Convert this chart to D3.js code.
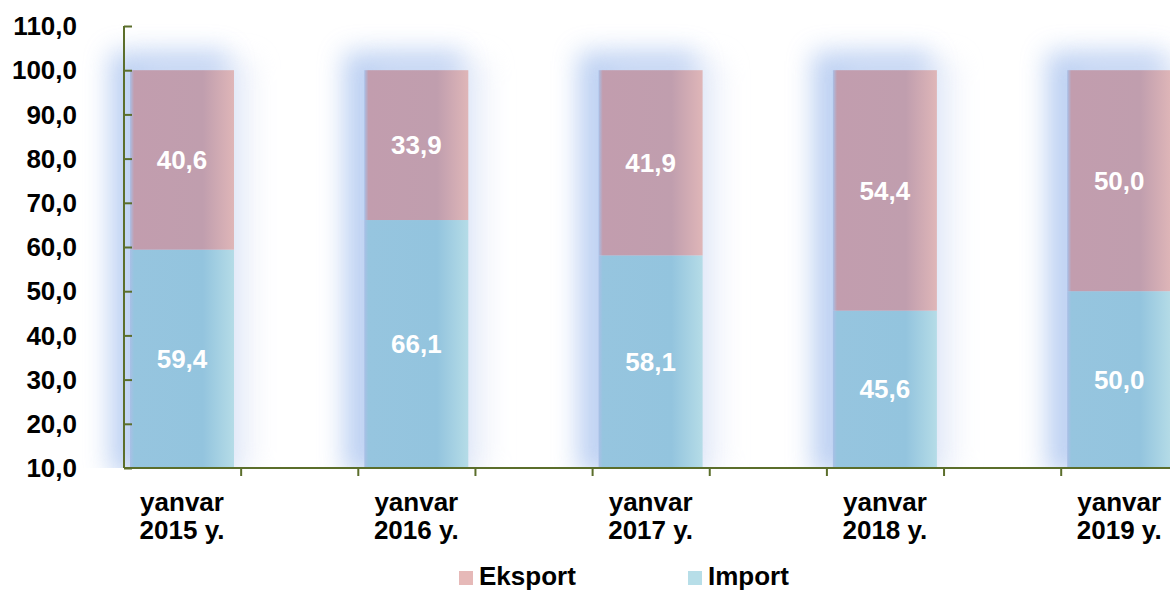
<!DOCTYPE html>
<html><head><meta charset="utf-8">
<script src="https://cdn.jsdelivr.net/npm/d3@7/dist/d3.min.js"></script>
<style>body{margin:0;background:#fff}svg{display:block}text{font-family:"Liberation Sans",Arial,sans-serif;font-weight:bold}</style>
</head><body><svg id="c" width="1170" height="590"></svg>
<script>
const categories = ["yanvar|2015 y.","yanvar|2016 y.","yanvar|2017 y.","yanvar|2018 y.","yanvar|2019 y."];
const importValues = [59.4, 66.1, 58.1, 45.6, 50.0];
const eksportValues = [40.6, 33.9, 41.9, 54.4, 50.0];
const yTicks = [10,20,30,40,50,60,70,80,90,100,110];
const seriesNames = ["Eksport","Import"];

const svg = d3.select("#c");
const y = d3.scaleLinear().domain([10,110]).range([468,26]);
const x = d3.scaleBand().domain(categories).range([124, 124+5*234.3]).paddingInner(0).paddingOuter(0);
const bw = 104, off = 6;
const fmt = v => d3.format(".1f")(v).replace(".", ",");
const FS = 26;

const defs = svg.append("defs");
const f = defs.append("filter").attr("id","glow").attr("x","-60%").attr("y","-30%").attr("width","220%").attr("height","160%");
f.append("feGaussianBlur").attr("stdDeviation",13);
const clip = defs.append("clipPath").attr("id","above");
clip.append("rect").attr("x",0).attr("y",0).attr("width",1170).attr("height",468);
function grad(id, c1, c2, c3){
  const g = defs.append("linearGradient").attr("id",id).attr("x1",0).attr("x2",1).attr("y1",0).attr("y2",0);
  g.append("stop").attr("offset","0").attr("stop-color","#a9bfe6");
  g.append("stop").attr("offset","0.04").attr("stop-color",c1);
  g.append("stop").attr("offset","0.7").attr("stop-color",c2);
  g.append("stop").attr("offset","1").attr("stop-color",c3);
}
grad("gE","#c29dae","#c09eae","#dfb6b8");
grad("gI","#96c5df","#93c4de","#b5dce7");

const data = categories.map((c,i)=>({c, imp: importValues[i], eks: eksportValues[i]}));

// glow
const glowG = svg.append("g").attr("clip-path","url(#above)");
glowG.selectAll("rect.g1").data(data).join("rect").attr("class","g1")
  .attr("x", d=>x(d.c)+off-20).attr("y", y(100)-18)
  .attr("width", bw+14).attr("height", y(10)-y(100)+24)
  .attr("fill","#8fb1ea").attr("opacity",0.6).attr("filter","url(#glow)");
glowG.selectAll("rect.g2").data(data).join("rect").attr("class","g2")
  .attr("x", d=>x(d.c)+off+10).attr("y", y(100)-10)
  .attr("width", bw+10).attr("height", y(10)-y(100)+14)
  .attr("fill","#dde4f6").attr("opacity",0.5).attr("filter","url(#glow)");

const bars = svg.append("g");
bars.selectAll("rect.i").data(data).join("rect").attr("class","i")
  .attr("x", d=>x(d.c)+off).attr("width", bw)
  .attr("y", d=>y(d.imp)).attr("height", d=>y(10)-y(d.imp)).attr("fill","url(#gI)");
bars.selectAll("rect.e").data(data).join("rect").attr("class","e")
  .attr("x", d=>x(d.c)+off).attr("width", bw)
  .attr("y", d=>y(d.imp+d.eks)).attr("height", d=>y(d.imp)-y(d.imp+d.eks)).attr("fill","url(#gE)");

// labels
const lab = svg.append("g").attr("fill","#fff").attr("font-size",FS).attr("text-anchor","middle");
lab.selectAll("text.i").data(data).join("text")
  .attr("x", d=>x(d.c)+off+bw/2).attr("y", d=>y((10+d.imp)/2)).attr("dy","0.35em").text(d=>fmt(d.imp));
lab.selectAll("text.e").data(data).join("text")
  .attr("x", d=>x(d.c)+off+bw/2).attr("y", d=>y(d.imp+d.eks/2)).attr("dy","0.35em").text(d=>fmt(d.eks));

// y axis
const axisColor = "#5b6e2b";
const yAxis = svg.append("g").attr("transform","translate(124,0)")
  .call(d3.axisRight(y).tickValues(yTicks).tickSize(8).tickFormat(()=>""));
yAxis.select(".domain").attr("stroke",axisColor).attr("stroke-width",2).attr("d","M0,26V468");
yAxis.selectAll(".tick line").attr("stroke",axisColor).attr("stroke-width",2);
svg.append("g").selectAll("text").data(yTicks).join("text")
  .attr("x",77).attr("y",d=>y(d)).attr("dy","0.35em").attr("text-anchor","end")
  .attr("font-size",FS).attr("fill","#000").text(d=>fmt(d));

// x axis
const xAxis = svg.append("g").attr("transform","translate(0,468)")
  .call(d3.axisBottom(x).tickSize(0).tickFormat(()=>""));
xAxis.select(".domain").attr("stroke",axisColor).attr("stroke-width",2).attr("d","M124,0H1170");
const tickPos = [];
categories.forEach(c=>{ tickPos.push(x(c)); tickPos.push(x(c)+x.bandwidth()/2); });
xAxis.selectAll("line.t").data(tickPos.slice(1)).join("line").attr("class","t")
  .attr("x1",d=>d).attr("x2",d=>d).attr("y1",0).attr("y2",8)
  .attr("stroke",axisColor).attr("stroke-width",2);

const xl = svg.append("g").attr("font-size",FS).attr("text-anchor","middle").attr("fill","#000");
data.forEach(d=>{
  const parts = d.c.split("|");
  const cx = x(d.c)+off+bw/2;
  xl.append("text").attr("x", cx).attr("y",511).text(parts[0]);
  xl.append("text").attr("x", cx).attr("y",539).text(parts[1]);
});

// legend
const legColors = {"Eksport":"#e6b9b8","Import":"#b7dee8"};
const legX = [459, 688];
const lg = svg.append("g");
seriesNames.forEach((s,i)=>{
  lg.append("rect").attr("x",legX[i]).attr("y",571).attr("width",14).attr("height",14).attr("fill",legColors[s]);
  lg.append("text").attr("x",legX[i]+20).attr("y",585).attr("font-size",FS).attr("fill","#000").text(s);
});
</script></body></html>
